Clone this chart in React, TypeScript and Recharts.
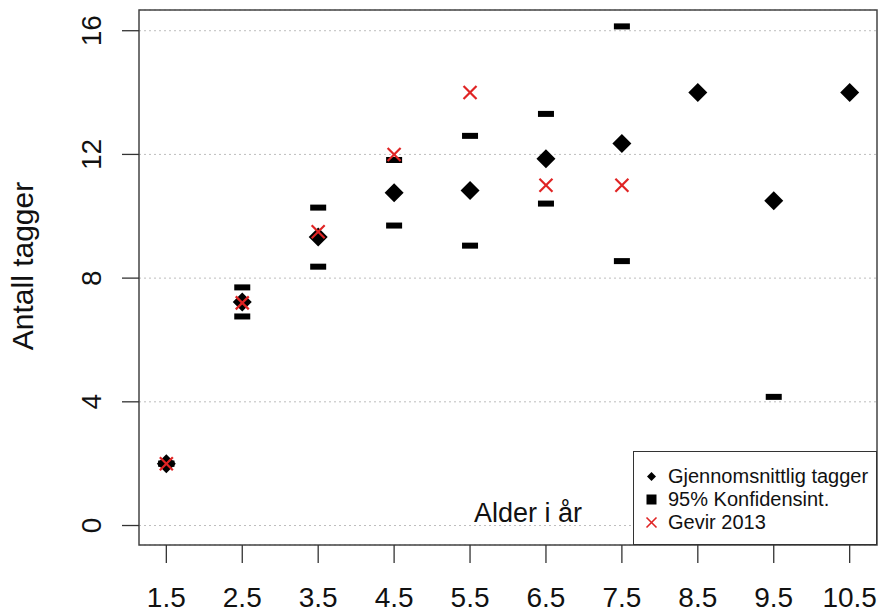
import React from 'react';
import { ScatterChart, Scatter, XAxis, YAxis, CartesianGrid, ReferenceArea, Legend } from 'recharts';

// alder (år) og tagger
const ages = [1.5, 2.5, 3.5, 4.5, 5.5, 6.5, 7.5, 8.5, 9.5, 10.5];
const meanTags = [2, 7.23, 9.33, 10.76, 10.83, 11.86, 12.35, 14, 10.5, 14];
const ciUpper = [2, 7.7, 10.28, 11.82, 12.6, 13.31, 16.14, null, 16.84, null];
const ciLower = [2, 6.76, 8.37, 9.7, 9.05, 10.41, 8.55, null, 4.16, null];
const gevir2013 = [2, 7.2, 9.5, 12, 14, 11, 11, null, null, null];

const yTicks = [0, 4, 8, 12, 16];
const xDomain = [1.14, 10.86];
const yDomain = [-0.63, 16.67];

const FONT = '"Liberation Sans", Arial, sans-serif';
const RED = '#e02424';

const toPoints = (vals: (number | null)[]) =>
  ages.map((a, i) => ({ x: a, y: vals[i] })).filter((p) => p.y !== null);

const Diamond = (props: any) => {
  const { cx, cy } = props;
  const r = 9.5;
  return <polygon points={`${cx},${cy - r} ${cx + r},${cy} ${cx},${cy + r} ${cx - r},${cy}`} fill="#000" />;
};

const Dash = (props: any) => {
  const { cx, cy } = props;
  return <rect x={cx - 8} y={cy - 3} width={16} height={6} fill="#000" />;
};

const Cross = (props: any) => {
  const { cx, cy } = props;
  const r = 6.5;
  return (
    <g stroke={RED} strokeWidth={2.2}>
      <line x1={cx - r} y1={cy - r} x2={cx + r} y2={cy + r} />
      <line x1={cx - r} y1={cy + r} x2={cx + r} y2={cy - r} />
    </g>
  );
};

const YTick = (props: any) => {
  const { x, y, payload } = props;
  const bx = x - 19;
  return (
    <text x={bx} y={y} transform={`rotate(-90 ${bx} ${y})`} textAnchor="middle" fontSize={28} fontFamily={FONT} fill="#111">
      {payload.value}
    </text>
  );
};

const LegendBox = () => (
  <div
    style={{
      width: 244,
      height: 94,
      boxSizing: 'border-box',
      border: '1.5px solid #333',
      background: '#fff',
      fontFamily: FONT,
      fontSize: 20,
      color: '#111',
      paddingTop: 13,
    }}
  >
    <div style={{ display: 'flex', alignItems: 'center', height: 23 }}>
      <svg width={34} height={23}>
        <polygon points="17.5,7 22,11.5 17.5,16 13,11.5" fill="#000" />
      </svg>
      <span>Gjennomsnittlig tagger</span>
    </div>
    <div style={{ display: 'flex', alignItems: 'center', height: 23 }}>
      <svg width={34} height={23}>
        <rect x={12.5} y={6.5} width={10} height={10} fill="#000" />
      </svg>
      <span>95% Konfidensint.</span>
    </div>
    <div style={{ display: 'flex', alignItems: 'center', height: 23 }}>
      <svg width={34} height={23}>
        <g stroke={RED} strokeWidth={1.6}>
          <line x1={12.5} y1={6.5} x2={22.5} y2={16.5} />
          <line x1={12.5} y1={16.5} x2={22.5} y2={6.5} />
        </g>
      </svg>
      <span>Gevir 2013</span>
    </div>
  </div>
);

export default function App() {
  return (
    <div style={{ position: 'absolute', left: 0, top: 0, width: 880, height: 612, background: '#fff' }}>
      <ScatterChart width={880} height={612} margin={{ top: 10, right: 3, bottom: 0, left: 0 }}>
        <CartesianGrid vertical={false} stroke="#bdbdbd" strokeDasharray="2 3" />
        <XAxis
          type="number"
          dataKey="x"
          domain={xDomain}
          ticks={ages}
          height={67}
          axisLine={false}
          tickSize={18}
          tickMargin={24}
          tickLine={{ stroke: '#333', strokeWidth: 1.3 }}
          tick={{ fontSize: 28, fontFamily: FONT, fill: '#111' }}
          allowDataOverflow
        />
        <YAxis
          type="number"
          dataKey="y"
          domain={yDomain}
          ticks={yTicks}
          width={139}
          axisLine={false}
          tickSize={17}
          tickLine={{ stroke: '#333', strokeWidth: 1.3 }}
          tick={<YTick />}
          allowDataOverflow
        />
        <ReferenceArea
          x1={xDomain[0]}
          x2={xDomain[1]}
          y1={yDomain[0]}
          y2={yDomain[1]}
          fill="none"
          stroke="#444"
          strokeWidth={1.5}
          ifOverflow="visible"
        />
        <Scatter name="95% Konfidensint." data={toPoints(ciUpper)} shape={<Dash />} isAnimationActive={false} />
        <Scatter name="95% Konfidensint. nedre" data={toPoints(ciLower)} shape={<Dash />} isAnimationActive={false} />
        <Scatter name="Gjennomsnittlig tagger" data={toPoints(meanTags)} shape={<Diamond />} isAnimationActive={false} />
        <Scatter name="Gevir 2013" data={toPoints(gevir2013)} shape={<Cross />} isAnimationActive={false} />
        <text x={528} y={522} textAnchor="middle" fontSize={27} fontFamily={FONT} fill="#111">
          Alder i år
        </text>
        <text x={33} y={266} transform="rotate(-90 33 266)" textAnchor="middle" fontSize={30} fontFamily={FONT} fill="#111">
          Antall tagger
        </text>
        <Legend
          layout="horizontal"
          verticalAlign="middle"
          align="center"
          content={<LegendBox />}
          wrapperStyle={{ left: 633, top: 451, width: 244, height: 94 }}
        />
      </ScatterChart>
    </div>
  );
}
